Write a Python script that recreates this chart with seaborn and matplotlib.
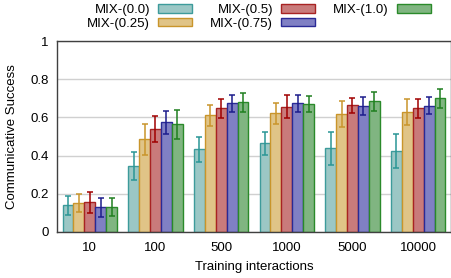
import pandas as pd
import matplotlib
matplotlib.use("Agg")
import matplotlib.pyplot as plt
import seaborn as sns

# Dados
interacoes = ["10", "100", "500", "1000", "5000", "10000"]
misturas = ["MIX-(0.0)", "MIX-(0.25)", "MIX-(0.5)", "MIX-(0.75)", "MIX-(1.0)"]

sucesso = {
    "MIX-(0.0)":  [0.14, 0.346, 0.433, 0.464, 0.438, 0.422],
    "MIX-(0.25)": [0.15, 0.485, 0.611, 0.621, 0.618, 0.628],
    "MIX-(0.5)":  [0.155, 0.539, 0.648, 0.656, 0.663, 0.647],
    "MIX-(0.75)": [0.13, 0.574, 0.674, 0.674, 0.660, 0.661],
    "MIX-(1.0)":  [0.13, 0.564, 0.679, 0.670, 0.684, 0.700],
}
erro = {
    "MIX-(0.0)":  [0.05, 0.075, 0.065, 0.060, 0.087, 0.089],
    "MIX-(0.25)": [0.047, 0.080, 0.055, 0.056, 0.070, 0.068],
    "MIX-(0.5)":  [0.053, 0.068, 0.050, 0.060, 0.040, 0.050],
    "MIX-(0.75)": [0.05, 0.060, 0.045, 0.045, 0.048, 0.044],
    "MIX-(1.0)":  [0.047, 0.076, 0.050, 0.044, 0.050, 0.050],
}

cores = ["#9bc7c5", "#e0c487", "#c97b7b", "#8080c4", "#80b581"]
bordas = ["#3d9b9b", "#c9952b", "#a82323", "#2a2a96", "#2a8a2a"]
cores_erro = ["#2a9696", "#c9952b", "#a00000", "#1c1c8c", "#1f7f1f"]

linhas = []
for m in misturas:
    for i, x in enumerate(interacoes):
        linhas.append({"interacoes": x, "mix": m, "sucesso": sucesso[m][i], "erro": erro[m][i]})
df = pd.DataFrame(linhas)

sns.set_style("white")
plt.rcParams["font.family"] = ["Liberation Sans", "DejaVu Sans"]
plt.rcParams["font.size"] = 9.5
plt.rcParams["text.color"] = "black"
plt.rcParams["axes.labelcolor"] = "black"
plt.rcParams["xtick.color"] = "black"
plt.rcParams["ytick.color"] = "black"

fs = 9.5

fig = plt.figure(figsize=(4.52, 2.78), dpi=100)
ax = fig.add_axes([57 / 452, 46 / 278, 394 / 452, 191 / 278])

sns.barplot(data=df, x="interacoes", y="sucesso", hue="mix", order=interacoes,
            hue_order=misturas, palette=cores, width=0.83, errorbar=None,
            saturation=1, linewidth=1.0, ax=ax, zorder=2)

# Bordas e barras de erro por série
barras = list(ax.containers)
for k, cont in enumerate(barras):
    xs = []
    for p in cont.patches:
        p.set_edgecolor(bordas[k])
        xs.append(p.get_x() + p.get_width() / 2)
    ax.errorbar(xs, sucesso[misturas[k]], yerr=erro[misturas[k]], fmt="none",
                ecolor=cores_erro[k], elinewidth=1.1, capsize=2, capthick=1.1, zorder=3)

ax.set_ylim(0, 1)
ax.set_xlim(-0.5, 5.5)
ax.set_yticks([0, 0.2, 0.4, 0.6, 0.8, 1.0])
ax.set_yticklabels(["0", "0.2", "0.4", "0.6", "0.8", "1"])
ax.yaxis.grid(True, color="#d0d0d0", linewidth=1, zorder=0)
ax.set_axisbelow(True)
ax.tick_params(axis="y", direction="in", length=3, width=0.8, color="#404040", labelsize=fs, pad=6)
ax.tick_params(axis="x", length=0, labelsize=fs, pad=7)
for s in ax.spines.values():
    s.set_visible(True)
    s.set_color("#404040")
    s.set_linewidth(1)

ax.set_xlabel("Training interactions", fontsize=fs, labelpad=5)
ax.set_ylabel("Communicative Success", fontsize=fs, labelpad=9)

h, l = ax.get_legend_handles_labels()
ax.legend_.remove()
for k, hh in enumerate(h):
    hh.set_edgecolor(bordas[k])
fig.legend(h, l, ncol=3, loc="upper right", bbox_to_anchor=(431 / 452, 274 / 278),
           frameon=False, markerfirst=False, fontsize=fs, handlelength=2.6,
           handleheight=0.6, handletextpad=0.6, columnspacing=1.35,
           labelspacing=0.12, borderpad=0.0, borderaxespad=0)

fig.savefig("out.png", dpi=100)
